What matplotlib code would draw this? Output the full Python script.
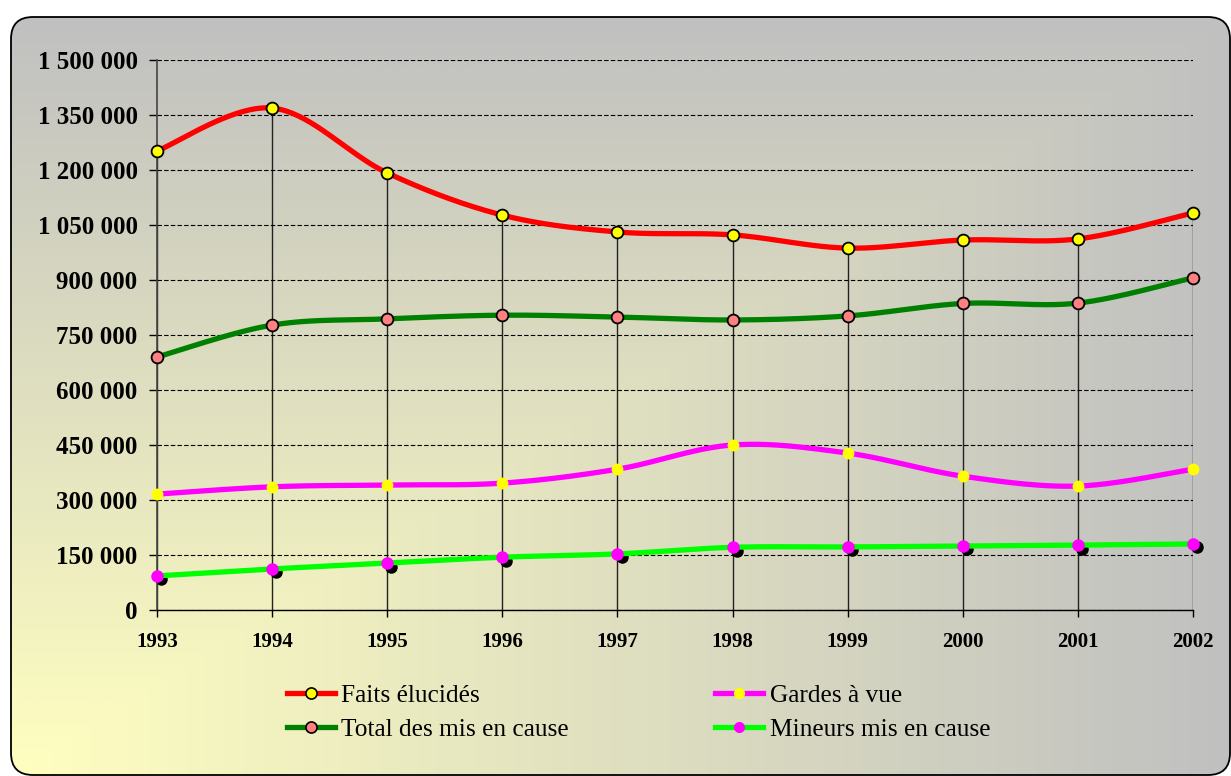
import numpy as np
import matplotlib
matplotlib.use("Agg")
import matplotlib.pyplot as plt
from matplotlib.patches import FancyBboxPatch
from matplotlib.lines import Line2D
from matplotlib.ticker import FuncFormatter, MultipleLocator
from matplotlib.transforms import offset_copy

# data
years = [1993, 1994, 1995, 1996, 1997, 1998, 1999, 2000, 2001, 2002]
faits_elucides = [1252000, 1369000, 1192000, 1077000, 1031000, 1023000, 987000, 1009000, 1012000, 1083000]
total_mis_en_cause = [690000, 777000, 794000, 804000, 799000, 791000, 802000, 836000, 837000, 906000]
gardes_a_vue = [316000, 336000, 341000, 346000, 384000, 450000, 428000, 365000, 338000, 384000]
mineurs_mis_en_cause = [93000, 112000, 128000, 144000, 153000, 171000, 172000, 174500, 177000, 180000]

labels = ["Faits élucidés", "Gardes à vue", "Total des mis en cause", "Mineurs mis en cause"]

W, H = 1231, 776
FONT = "Liberation Serif"


def smooth(x, y, n=40):
    # excel-like smoothed line: bezier segments with catmull-rom handles
    x = np.asarray(x, float)
    y = np.asarray(y, float)
    px = np.concatenate([[x[0]], x, [x[-1]]])
    py = np.concatenate([[y[0]], y, [y[-1]]])
    t = np.linspace(0, 1, n)[:, None]
    pts = []
    for i in range(len(x) - 1):
        p0 = np.array([px[i], py[i]])
        p1 = np.array([px[i + 1], py[i + 1]])
        p2 = np.array([px[i + 2], py[i + 2]])
        p3 = np.array([px[i + 3], py[i + 3]])
        c1 = p1 + (p2 - p0) / 6
        c2 = p2 - (p3 - p1) / 6
        seg = (1 - t) ** 3 * p1 + 3 * (1 - t) ** 2 * t * c1 + 3 * (1 - t) * t ** 2 * c2 + t ** 3 * p2
        pts.append(seg if i == 0 else seg[1:])
    pts = np.vstack(pts)
    return pts[:, 0], pts[:, 1]


fig = plt.figure(figsize=(W / 100, H / 100), dpi=100)

# background: rounded box with a corner gradient (yellow bottom-left -> grey)
bg = fig.add_axes([0, 0, 1, 1], zorder=-5)
bg.set_xlim(0, W)
bg.set_ylim(H, 0)
bg.axis("off")
x0, y0, x1, y1 = 11, 17, 1230, 775
gx = np.linspace(0, 1, 300)
gy = np.linspace(1, 0, 200)
u, v = np.meshgrid(gx, gy)
tt = np.maximum(u, v)[..., None]
yellow = np.array([255, 255, 192]) / 255
grey = np.array([192, 192, 192]) / 255
img = yellow * (1 - tt) + grey * tt
box = FancyBboxPatch((x0, y0), x1 - x0, y1 - y0, boxstyle="round,pad=0,rounding_size=22",
                     facecolor="none", edgecolor="black", linewidth=1.3, transform=bg.transData)
im = bg.imshow(img, extent=(x0, x1, y1, y0), aspect="auto", interpolation="bilinear")
im.set_clip_path(box)
bg.add_patch(box)

ax = fig.add_axes([157 / W, 1 - 610 / H, (1193 - 157) / W, (610 - 60) / H])
ax.set_facecolor("none")
ax.set_xlim(1993, 2002)
ax.set_ylim(0, 1500000)

# grid + drop lines
ax.yaxis.set_major_locator(MultipleLocator(150000))
ax.grid(axis="y", color="black", linestyle=(0, (4, 2)), linewidth=0.8)
ax.vlines(years, 0, faits_elucides, color="#222222", linewidth=1.0, zorder=1)

# series
xs, ys = smooth(years, faits_elucides)
ax.plot(xs, ys, color="#FF0000", lw=3.8, zorder=3, clip_on=False)
ax.plot(years, faits_elucides, ls="none", marker="o", ms=8.5, mfc="#FFFF00", mec="black", mew=1.3,
        zorder=6, clip_on=False)

xs, ys = smooth(years, total_mis_en_cause)
ax.plot(xs, ys, color="#008000", lw=3.8, zorder=3, clip_on=False)
ax.plot(years, total_mis_en_cause, ls="none", marker="o", ms=8.5, mfc="#FF8080", mec="black", mew=1.3,
        zorder=6, clip_on=False)

xs, ys = smooth(years, gardes_a_vue)
ax.plot(xs, ys, color="#FF00FF", lw=3.8, zorder=3, clip_on=False)
ax.plot(years, gardes_a_vue, ls="none", marker="o", ms=8.5, mfc="#FFFF00", mec="none",
        zorder=6, clip_on=False)

shadow = offset_copy(ax.transData, fig=fig, x=3, y=-2.5, units="points")
ax.plot(years, mineurs_mis_en_cause, ls="none", marker="o", ms=9, mfc="black", mec="none",
        transform=shadow, zorder=2, clip_on=False)
xs, ys = smooth(years, mineurs_mis_en_cause)
ax.plot(xs, ys, color="#00FF00", lw=3.8, zorder=3, clip_on=False)
ax.plot(years, mineurs_mis_en_cause, ls="none", marker="o", ms=9, mfc="#FF00FF", mec="none",
        zorder=6, clip_on=False)

# axes styling
for s in ["top", "right"]:
    ax.spines[s].set_visible(False)
ax.spines["left"].set_color("#444444")
ax.spines["left"].set_linewidth(1.2)
ax.spines["bottom"].set_color("black")
ax.spines["bottom"].set_linewidth(1.0)
ax.set_xticks(years)
ax.set_xticklabels([str(y) for y in years])
ax.yaxis.set_major_formatter(FuncFormatter(lambda v, p: f"{v:,.0f}".replace(",", " ")))
ax.tick_params(axis="y", direction="out", length=6, width=1, pad=8, labelsize=18, colors="black")
ax.tick_params(axis="x", direction="out", length=5, width=1, pad=11, labelsize=15, colors="black")
for lab in ax.get_yticklabels() + ax.get_xticklabels():
    lab.set_fontfamily(FONT)
    lab.set_fontweight("bold")

handles = [
    Line2D([], [], color="#FF0000", lw=3.8, marker="o", ms=8, mfc="#FFFF00", mec="black", mew=1.2),
    Line2D([], [], color="#008000", lw=3.8, marker="o", ms=8, mfc="#FF8080", mec="black", mew=1.2),
    Line2D([], [], color="#FF00FF", lw=3.8, marker="o", ms=8, mfc="#FFFF00", mec="none"),
    Line2D([], [], color="#00FF00", lw=3.8, marker="o", ms=8, mfc="#FF00FF", mec="none"),
]
leg_labels = [labels[0], labels[2], labels[1], labels[3]]
fig.legend(handles, leg_labels, ncol=2, loc="upper left", bbox_to_anchor=(274 / W, 1 - 671 / H),
           frameon=False, borderpad=0, handlelength=1.9, handletextpad=0.25, columnspacing=5.75,
           labelspacing=0.45, numpoints=1, prop={"family": FONT, "size": 18.3})

fig.savefig("out.png", dpi=100)
